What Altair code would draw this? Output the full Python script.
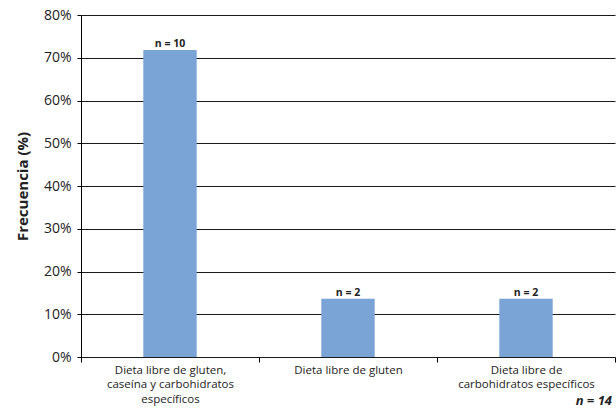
import altair as alt
import pandas as pd

# Dietas evaluadas (etiquetas en varias líneas) y su frecuencia en %
categorias = [
    "Dieta libre de gluten,\ncaseína y carbohidratos\nespecíficos",
    "Dieta libre de gluten",
    "Dieta libre de\ncarbohidratos específicos",
]
frecuencia = [71.8, 13.6, 13.6]
etiquetas_n = ["n = 10", "n = 2", "n = 2"]
ticks_y = [0, 10, 20, 30, 40, 50, 60, 70, 80]
total_n = "n = 14"

df = pd.DataFrame({"dieta": categorias, "frecuencia": frecuencia, "n": etiquetas_n})

W, H = 534, 342
FONT = "Open Sans"

x = alt.X(
    "dieta:N",
    sort=categorias,
    scale=alt.Scale(paddingInner=0, paddingOuter=0),
    axis=alt.Axis(
        title=None,
        domain=False,
        tickBand="extent",
        tickSize=5,
        tickColor="#000000",
        tickWidth=1,
        labelAngle=0,
        labelFont=FONT,
        labelFontSize=11.5,
        labelColor="#222222",
        labelLineHeight=14.5,
        labelPadding=2,
        labelExpr="split(datum.label, '\\n')",
    ),
)

y = alt.Y(
    "frecuencia:Q",
    scale=alt.Scale(domain=[0, 80], nice=False),
    axis=alt.Axis(
        title="Frecuencia (%)",
        titleFont=FONT,
        titleFontSize=15,
        titleFontWeight="bold",
        titleColor="#222222",
        titlePadding=13,
        values=ticks_y,
        labelExpr="datum.value + '%'",
        labelFont=FONT,
        labelFontSize=14,
        labelColor="#222222",
        labelPadding=6,
        tickSize=4,
        tickColor="#000000",
        domainColor="#000000",
        grid=True,
        gridColor="#1a1a1a",
        gridWidth=1,
    ),
)

bars = alt.Chart(df).mark_bar(color="#7ba4d6", width={"band": 0.3}).encode(x=x, y=y)

labels = alt.Chart(df).mark_text(
    font=FONT, fontSize=10.5, fontWeight="bold", color="#222222", baseline="bottom", dy=-1
).encode(x=alt.X("dieta:N", sort=categorias), y="frecuencia:Q", text="n:N")

total = alt.Chart(pd.DataFrame({"t": [total_n]})).mark_text(
    font=FONT, fontSize=13, fontWeight="bold", fontStyle="italic", color="#222222",
    align="right", baseline="alphabetic",
).encode(x=alt.value(W - 3), y=alt.value(H + 48), text="t:N")

chart = (
    alt.layer(bars, labels, total)
    .properties(
        width=W,
        height=H,
        autosize=alt.AutoSizeParams(type="none"),
        padding={"left": 81, "top": 15, "right": 1, "bottom": 51},
        background="#ffffff",
    )
    .configure_view(stroke=None)
)

chart.save("out.html", embed_options={"renderer": "svg", "actions": False})
